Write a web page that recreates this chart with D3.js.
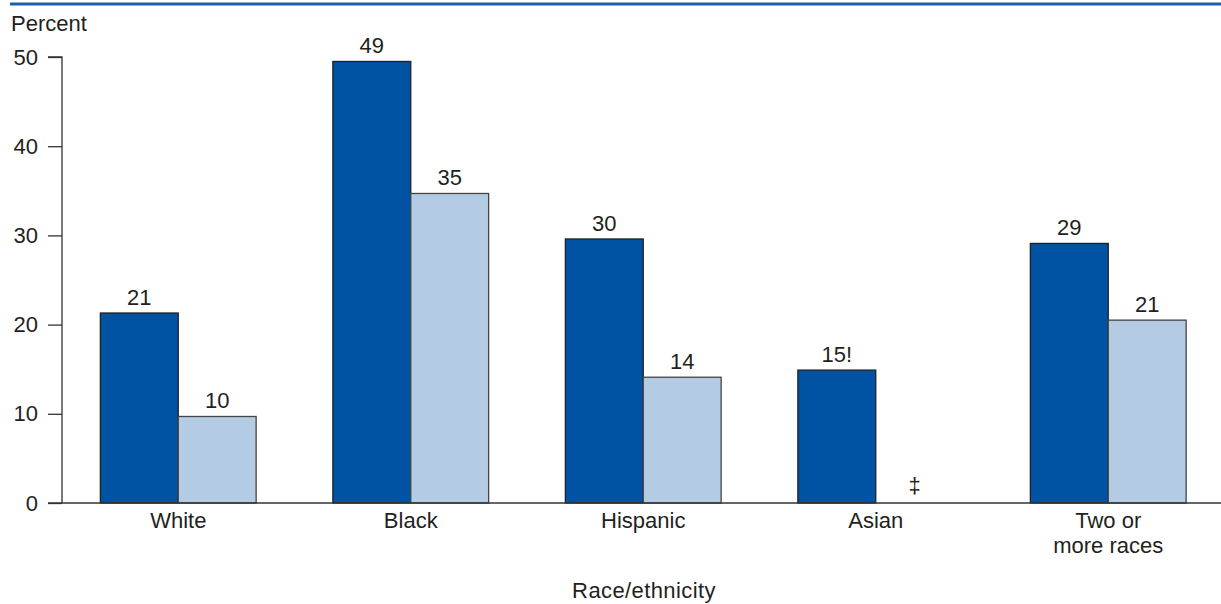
<!DOCTYPE html>
<html>
<head>
<meta charset="utf-8">
<script src="https://cdn.jsdelivr.net/npm/d3@7"></script>
<style>
  body { margin: 0; background: #fff; }
  text { font-family: "Liberation Sans", Arial, sans-serif; fill: #231f20; }
</style>
</head>
<body>
<div id="viz"></div>
<script>
// data
var categories = ["White", "Black", "Hispanic", "Asian", "Two or more races"];
var catLines = [["White"], ["Black"], ["Hispanic"], ["Asian"], ["Two or", "more races"]];
var seriesA = [21.3, 49.5, 29.6, 14.9, 29.1];
var seriesB = [9.7, 34.7, 14.1, null, 20.5];
var labelsA = ["21", "49", "30", "15!", "29"];
var labelsB = ["10", "35", "14", "\u2021", "21"];
var yTicks = [0, 10, 20, 30, 40, 50];

var W = 1221, H = 604;
var margin = { top: 57, right: 0, bottom: 101, left: 62 };
var height = H - margin.top - margin.bottom;

var svg = d3.select("#viz").append("svg")
    .attr("width", W)
    .attr("height", H);

// blue rule at the top
svg.append("line")
    .attr("x1", 10).attr("x2", W)
    .attr("y1", 4).attr("y2", 4)
    .attr("stroke", "#1c5fae")
    .attr("stroke-width", 3);

var x = d3.scaleBand()
    .domain(categories)
    .range([margin.left, margin.left + 5 * 232.5])
    .paddingInner(0.33)
    .paddingOuter(0.165);

var xs = d3.scaleBand()
    .domain(["a", "b"])
    .range([0, x.bandwidth()]);

var y = d3.scaleLinear()
    .domain([0, 50])
    .range([margin.top + height, margin.top]);

var records = categories.map(function(c, i) {
    return { cat: c, a: seriesA[i], b: seriesB[i], la: labelsA[i], lb: labelsB[i] };
});

var g = svg.append("g");

// bars
var groups = g.selectAll(".grp")
    .data(records).enter()
    .append("g")
    .attr("class", "grp")
    .attr("transform", function(d) { return "translate(" + x(d.cat) + ",0)"; });

groups.append("rect")
    .attr("x", xs("a"))
    .attr("y", function(d) { return y(d.a); })
    .attr("width", xs.bandwidth())
    .attr("height", function(d) { return y(0) - y(d.a); })
    .attr("fill", "#0052a2")
    .attr("stroke", "#222")
    .attr("stroke-width", 1.3);

groups.filter(function(d) { return d.b !== null; })
    .append("rect")
    .attr("x", xs("b"))
    .attr("y", function(d) { return y(d.b); })
    .attr("width", xs.bandwidth())
    .attr("height", function(d) { return y(0) - y(d.b); })
    .attr("fill", "#b3cce3")
    .attr("stroke", "#444")
    .attr("stroke-width", 1.3);

// value labels
groups.append("text")
    .attr("x", xs("a") + xs.bandwidth() / 2)
    .attr("y", function(d) { return y(d.a) - 8; })
    .attr("text-anchor", "middle")
    .style("font-size", "22px")
    .text(function(d) { return d.la; });

groups.append("text")
    .attr("x", xs("b") + xs.bandwidth() / 2)
    .attr("y", function(d) { return d.b === null ? y(0) - 10 : y(d.b) - 8; })
    .attr("text-anchor", "middle")
    .style("font-size", "22px")
    .text(function(d) { return d.lb; });

// y axis
var yAxis = svg.append("g")
    .attr("transform", "translate(" + margin.left + ",0)")
    .call(d3.axisLeft(y).tickValues(yTicks).tickSize(14).tickPadding(10));
yAxis.select(".domain").attr("stroke", "#333").attr("stroke-width", 1.3)
    .attr("d", "M-14," + y(50) + "H0V" + y(0));
yAxis.selectAll(".tick line").attr("stroke", "#333").attr("stroke-width", 1.3);
yAxis.selectAll(".tick text")
    .style("font-size", "22px")
    .style("font-family", "Liberation Sans, Arial, sans-serif")
    .attr("fill", "#231f20");

// x baseline
svg.append("line")
    .attr("x1", margin.left - 14).attr("x2", W)
    .attr("y1", y(0)).attr("y2", y(0))
    .attr("stroke", "#333")
    .attr("stroke-width", 1.3);

// category labels
svg.selectAll(".cat")
    .data(categories).enter()
    .append("text")
    .attr("class", "cat")
    .attr("text-anchor", "middle")
    .attr("x", function(d) { return x(d) + x.bandwidth() / 2; })
    .attr("y", y(0) + 25)
    .style("font-size", "22px")
    .each(function(d, i) {
        d3.select(this).selectAll("tspan")
            .data(catLines[i]).enter()
            .append("tspan")
            .attr("x", x(d) + x.bandwidth() / 2)
            .attr("dy", function(t, j) { return j === 0 ? 0 : 25; })
            .text(function(t) { return t; });
    });

// titles
svg.append("text")
    .attr("x", 11).attr("y", 31)
    .style("font-size", "22px")
    .text("Percent");

svg.append("text")
    .attr("x", 644).attr("y", 598)
    .attr("text-anchor", "middle")
    .style("font-size", "22px")
    .style("letter-spacing", "0.4px")
    .text("Race/ethnicity");
</script>
</body>
</html>
